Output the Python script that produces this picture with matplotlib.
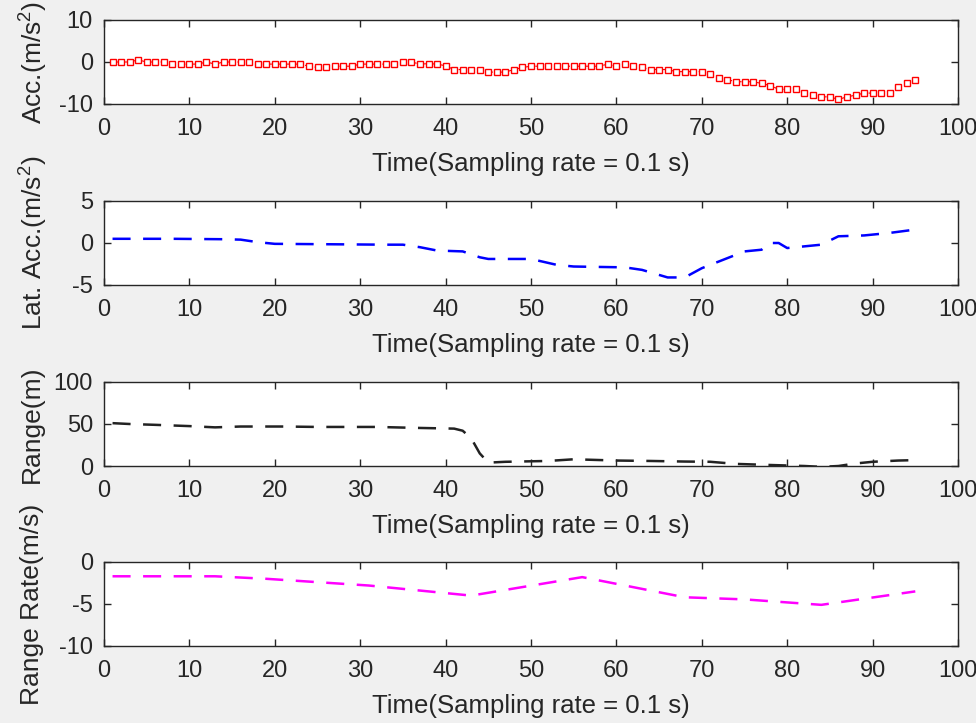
import matplotlib
matplotlib.use("Agg")
from matplotlib import pyplot as plt

# longitudinal acceleration, one sample per step (t = 1..95)
t_acc = list(range(1, 96))
acc = [0, 0, 0, 0.5, 0, 0, 0, -0.5, -0.5, -0.5,
       -0.5, 0, -0.5, 0, 0, 0, 0, -0.5, -0.5, -0.5,
       -0.5, -0.5, -0.5, -1, -1.3, -1.3, -1, -1, -1, -0.5,
       -0.5, -0.5, -0.5, -0.5, 0, 0, -0.5, -0.4, -0.5, -0.9,
       -1.8, -1.8, -1.8, -1.8, -2.4, -2.4, -2.4, -1.8, -1.3, -1,
       -1, -1, -1, -1, -1, -1, -1, -1, -0.5, -1,
       -0.4, -1, -1.3, -1.8, -1.8, -1.8, -2.3, -2.3, -2.3, -2.3,
       -2.8, -3.7, -4.2, -4.7, -4.7, -4.7, -5.1, -5.6, -6.5, -6.5,
       -6.5, -7.4, -7.9, -8.3, -8.3, -8.9, -8.3, -7.9, -7.4, -7.4,
       -7.4, -7.4, -6.0, -5.0, -4.2]

# lateral acceleration
t_lat = [1, 8, 14, 16, 18, 20, 33, 35, 37, 39, 42, 44, 45, 50, 53, 55, 61, 63,
         66, 68, 70, 72, 75, 77, 78, 79, 80, 82, 84, 86, 89, 92, 95]
lat = [0.5, 0.5, 0.45, 0.4, 0.1, -0.1, -0.2, -0.2, -0.5, -0.9, -1.0, -1.7, -1.9,
       -1.9, -2.6, -2.8, -2.9, -3.2, -4.1, -4.1, -3.0, -2.2, -1.0, -0.8, 0.0, 0.0,
       -0.6, -0.4, -0.2, 0.8, 0.9, 1.2, 1.6]

# range
t_rng = [1, 3, 6, 10, 13, 16, 21, 25, 32, 36, 41, 42, 43, 44, 45, 47, 52, 55,
         60, 64, 68, 71, 74, 78, 82, 84, 86, 88, 90, 93, 95]
rng = [51, 50, 49, 47.5, 46, 47, 47, 46.5, 46.5, 45.5, 44.5, 42, 33, 15, 4, 5,
       6, 8, 6.5, 6, 5.3, 5, 2.5, 1.2, 0, -1, 0, 3, 5, 6.5, 7]

# range rate
t_rr = [1, 13, 19, 31, 43, 56, 68, 75, 84, 95]
rr = [-1.7, -1.7, -2.0, -2.8, -4.0, -1.8, -4.2, -4.45, -5.1, -3.5]

xlab = "Time(Sampling rate = 0.1 s)"
ylabels = ["Acc.(m/s$^2$)", "Lat. Acc.(m/s$^2$)", "Range(m)", "Range Rate(m/s)"]
ylims = [(-10, 10), (-5, 5), (0, 100), (-10, 0)]
yticks = [[-10, 0, 10], [-5, 0, 5], [0, 50, 100], [-10, -5, 0]]

plt.rcParams["font.family"] = ["Liberation Sans", "DejaVu Sans"]
plt.rcParams["mathtext.fontset"] = "custom"
plt.rcParams["mathtext.rm"] = "Liberation Sans"
plt.rcParams["axes.unicode_minus"] = False
plt.rcParams["lines.scale_dashes"] = False

fig = plt.figure(figsize=(9.76, 7.23), dpi=100, facecolor="#f0f0f0")
W, H = 976.0, 723.0
tops = [20, 201, 382, 562]
axes = []
for i in range(4):
    ax = fig.add_axes([104 / W, 1 - (tops[i] + 84) / H, 854 / W, 84 / H])
    ax.set_facecolor("white")
    ax.set_xlim(0, 100)
    ax.set_ylim(*ylims[i])
    ax.set_xticks(range(0, 101, 10))
    ax.set_yticks(yticks[i])
    ax.tick_params(direction="in", top=True, right=True, length=5, width=1,
                   labelsize=17, colors="#262626", pad=8)
    ax.tick_params(axis="x", pad=10)
    for s in ax.spines.values():
        s.set_color("#262626")
        s.set_linewidth(1)
    ax.set_xlabel(xlab, fontsize=18.5, color="#262626", va="center")
    ax.xaxis.set_label_coords(0.5, -0.71)
    ax.set_ylabel(ylabels[i], fontsize=19, color="#262626", va="center")
    ax.yaxis.set_label_coords(-0.084, 0.5)
    axes.append(ax)

axes[0].plot(t_acc, acc, color="red", linestyle="--", dashes=(4, 3), linewidth=0.8,
             marker="s", markersize=4, markerfacecolor="white",
             markeredgecolor="red", markeredgewidth=1.0, clip_on=False)
axes[1].plot(t_lat, lat, color="blue", linestyle="--", dashes=(13, 9), linewidth=1.8)
axes[2].plot(t_rng, rng, color="#222222", linestyle="--", dashes=(13, 9), linewidth=1.8)
axes[3].plot(t_rr, rr, color="magenta", linestyle="--", dashes=(13, 9), linewidth=1.8)

plt.savefig("out.png", dpi=100, facecolor=fig.get_facecolor())
